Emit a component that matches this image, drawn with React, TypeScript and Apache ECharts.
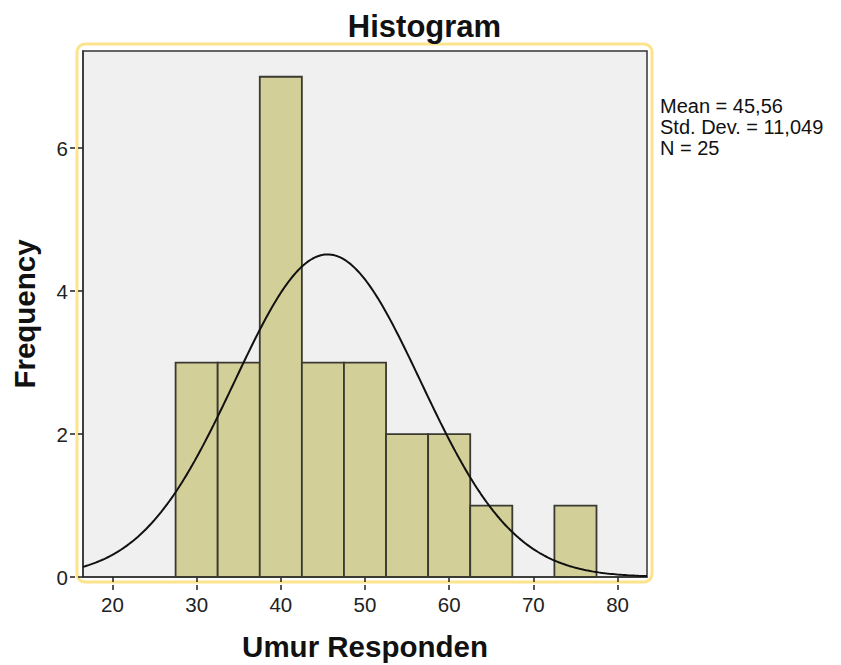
import React, { useEffect, useRef } from "react";
import * as echarts from "echarts";

const binStarts = [27.5, 32.5, 37.5, 42.5, 47.5, 52.5, 57.5, 62.5, 67.5, 72.5];
const binWidth = 5;
const counts = [3, 3, 7, 3, 3, 2, 2, 1, 0, 1];
const xTicks = [20, 30, 40, 50, 60, 70, 80];
const yTicks = [0, 2, 4, 6];
const mean = 45.56;
const stdDev = 11.049;
const nCount = 25;
const statLines = ["Mean = 45,56", "Std. Dev. = 11,049", "N = 25"];

const X_MIN = 16.5;
const X_MAX = 83.5;
const Y_MAX = 7.36;
const FONT = "'Liberation Sans', Arial, sans-serif";

export default function App() {
  const ref = useRef<HTMLDivElement>(null);
  useEffect(() => {
    if (!ref.current) return;
    const chart = echarts.init(ref.current, null, { renderer: "svg" });

    const barData = binStarts
      .map((s, i) => [s, s + binWidth, counts[i]])
      .filter((d) => d[2] > 0);

    const scale = (nCount * binWidth) / (stdDev * Math.sqrt(2 * Math.PI));
    const curve: number[][] = [];
    for (let x = X_MIN; x <= X_MAX + 1e-9; x += 0.25) {
      const z = (x - mean) / stdDev;
      curve.push([x, scale * Math.exp(-0.5 * z * z)]);
    }

    const tickStyle = { color: "#222", width: 1.5, type: [5, 3] as any };

    chart.setOption({
      animation: false,
      backgroundColor: "#ffffff",
      textStyle: { fontFamily: FONT },
      grid: {
        left: 83,
        right: 194,
        top: 51,
        bottom: 88,
        containLabel: false,
        outerBoundsMode: "none",
        show: true,
        backgroundColor: "#F0F0F0",
        borderColor: "#333",
        borderWidth: 1.5,
      },
      xAxis: {
        type: "value",
        min: X_MIN,
        max: X_MAX,
        name: "Umur Responden",
        nameLocation: "middle",
        nameGap: 54,
        nameTextStyle: { fontSize: 29.5, fontWeight: "bold", color: "#111", fontFamily: FONT },
        axisLine: { show: true, lineStyle: { color: "#333", width: 1.5 } },
        axisTick: { show: true, length: 13, customValues: xTicks, lineStyle: tickStyle },
        axisLabel: { customValues: xTicks, fontSize: 20.5, color: "#222", margin: 17, fontFamily: FONT },
        splitLine: { show: false },
      },
      yAxis: {
        type: "value",
        min: 0,
        max: Y_MAX,
        name: "Frequency",
        nameLocation: "middle",
        nameGap: 44,
        nameTextStyle: { fontSize: 29.5, fontWeight: "bold", color: "#111", fontFamily: FONT },
        axisLine: { show: true, lineStyle: { color: "#333", width: 1.5 } },
        axisTick: { show: true, length: 13, customValues: yTicks, lineStyle: tickStyle },
        axisLabel: { customValues: yTicks, fontSize: 20.5, color: "#222", margin: 15, fontFamily: FONT },
        splitLine: { show: false },
      },
      graphic: [
        {
          type: "rect",
          shape: { x: 77, y: 44, width: 575, height: 538, r: 8 },
          style: { fill: "none", stroke: "#FDE48C", lineWidth: 3 },
          z: -1,
          silent: true,
        },
        {
          type: "text",
          x: 424.5,
          y: 26,
          style: {
            text: "Histogram",
            fontSize: 31,
            fontWeight: "bold",
            fontFamily: FONT,
            fill: "#111",
            align: "center",
            verticalAlign: "middle",
          },
        },
        ...statLines.map((t, i) => ({
          type: "text",
          x: 660,
          y: 105.5 + i * 21,
          style: {
            text: t,
            fontSize: 20,
            fontFamily: FONT,
            fill: "#111",
            align: "left",
            verticalAlign: "middle",
          },
        })),
      ],
      series: [
        {
          type: "custom",
          data: barData,
          encode: { x: [0, 1], y: 2 },
          z: 2,
          renderItem: (params: any, api: any) => {
            const x0 = api.value(0);
            const x1 = api.value(1);
            const c = api.value(2);
            const p0 = api.coord([x0, c]);
            const p1 = api.coord([x1, 0]);
            return {
              type: "rect",
              shape: { x: p0[0], y: p0[1], width: p1[0] - p0[0], height: p1[1] - p0[1] },
              style: { fill: "#D3CF98", stroke: "#3A3A30", lineWidth: 1.8 },
            };
          },
        },
        {
          type: "line",
          data: curve,
          showSymbol: false,
          symbol: "none",
          z: 3,
          lineStyle: { color: "#111", width: 2 },
        },
      ],
    });
    return () => chart.dispose();
  }, []);
  return (
    <div
      ref={ref}
      style={{ position: "fixed", left: 0, top: 0, width: 841, height: 665 }}
    />
  );
}
